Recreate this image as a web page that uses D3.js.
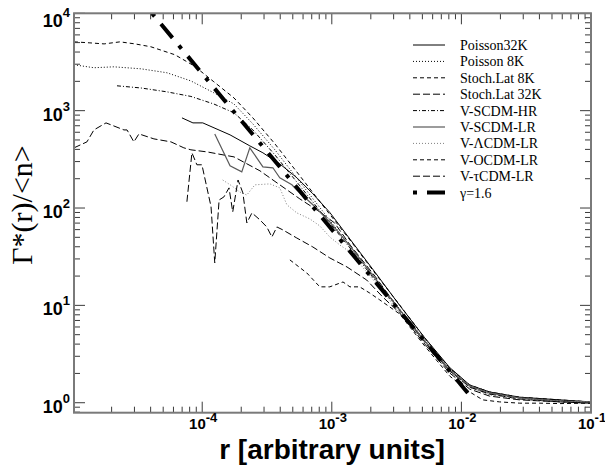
<!DOCTYPE html>
<html>
<head>
<meta charset="utf-8">
<script src="https://cdn.jsdelivr.net/npm/d3@7"></script>
<style>
body{margin:0;background:#fff;}
</style>
</head>
<body>
<svg id="chart" width="605" height="469"></svg>
<script>
/*values: r and Gamma*(r)/<n> for each run*/
const rPoisson32K = [6.98e-5, 8.48e-5, 1.01e-4, 1.64e-4, 2.33e-4, 2.94e-4, 3.97e-4, 5.37e-4, 7.14e-4, 9.65e-4, 1.38e-3, 2.15e-3, 3.34e-3, 5.21e-3, 8.12e-3, 1.16e-2, 1.65e-2, 2.82e-2, 5.73e-2, 0.1];
const gPoisson32K = [843, 749, 749, 564, 435, 369, 284, 205, 140, 90.0, 48.0, 22.0, 10.0, 4.65, 2.30, 1.52, 1.29, 1.14, 1.07, 1.02];

const rPoisson8K = [1.025e-5, 1.46e-5, 2.08e-5, 3.37e-5, 5.35e-5, 8.18e-5, 1.23e-4, 1.76e-4, 2.46e-4, 3.64e-4, 5.67e-4, 8.83e-4, 1.38e-3, 2.15e-3, 3.34e-3, 5.21e-3, 8.12e-3, 1.16e-2, 1.65e-2, 2.82e-2, 5.73e-2, 0.1];
const gPoisson8K = [2960, 2760, 2820, 2690, 2450, 2020, 1525, 1170, 731, 396, 185, 87.0, 40.8, 19.1, 9.18, 4.41, 2.22, 1.49, 1.26, 1.12, 1.04, 1.02];

const rStoch8K = [1.025e-5, 1.36e-5, 1.75e-5, 2.32e-5, 3.03e-5, 4.02e-5, 6.16e-5, 8.63e-5, 1.23e-4, 1.76e-4, 2.46e-4, 3.64e-4, 5.67e-4, 8.83e-4, 1.38e-3, 2.15e-3, 3.34e-3, 5.21e-3, 8.12e-3, 1.16e-2, 1.65e-2, 2.82e-2, 5.73e-2, 0.1];
const gStoch8K = [5090, 4970, 4850, 5090, 4850, 4530, 3750, 2890, 1980, 1350, 843, 456, 214, 100, 47.0, 21.5, 10.1, 4.62, 2.27, 1.52, 1.29, 1.14, 1.07, 1.02];

const rStoch32K = [1.025e-5, 1.29e-5, 1.46e-5, 1.81e-5, 2.49e-5, 2.63e-5, 2.97e-5, 3.25e-5, 4.24e-5, 5.74e-5, 7.22e-5, 8.18e-5, 1.09e-4, 1.76e-4, 2.79e-4, 3.97e-4, 5.67e-4, 8.08e-4, 1.05e-3, 1.38e-3, 2.15e-3, 3.34e-3, 5.21e-3, 8.12e-3, 1.16e-2, 1.65e-2, 2.82e-2, 5.73e-2, 0.1];
const gStoch32K = [415, 478, 634, 749, 634, 634, 478, 577, 513, 478, 415, 396, 377, 335, 241, 173, 124, 91.2, 70.3, 42.0, 20.0, 8.97, 4.21, 2.12, 1.45, 1.23, 1.09, 1.02, 0.99];

const rSCDMHR = [2.20e-5, 3.37e-5, 5.35e-5, 8.18e-5, 1.23e-4, 1.76e-4, 2.46e-4, 3.64e-4, 5.67e-4, 8.83e-4, 1.38e-3, 2.15e-3, 3.34e-3, 5.21e-3, 8.12e-3, 1.16e-2, 1.65e-2, 2.82e-2, 5.73e-2, 0.1];
const gSCDMHR = [1800, 1710, 1560, 1400, 1170, 950, 634, 351, 169, 81.0, 38.9, 18.2, 8.76, 4.21, 2.12, 1.45, 1.23, 1.12, 1.04, 1.00];

const rSCDMLR = [1.25e-4, 1.64e-4, 2.02e-4, 2.33e-4, 2.94e-4, 3.51e-4, 3.97e-4, 4.92e-4, 5.37e-4, 7.14e-4, 9.65e-4, 1.38e-3, 2.15e-3, 3.34e-3, 5.21e-3, 8.12e-3, 1.16e-2, 1.65e-2, 2.82e-2, 5.73e-2, 0.1];
const gSCDMLR = [577, 271, 235, 415, 265, 259, 204, 173, 153, 108, 71.9, 40.8, 19.1, 8.97, 4.31, 2.17, 1.49, 1.26, 1.12, 1.04, 1.02];

const rLCDMLR = [1.44e-4, 1.69e-4, 1.95e-4, 2.21e-4, 2.55e-4, 3.33e-4, 3.97e-4, 4.50e-4, 5.37e-4, 6.77e-4, 8.08e-4, 9.65e-4, 1.15e-3, 1.38e-3, 2.15e-3, 3.34e-3, 5.21e-3, 8.12e-3, 1.16e-2, 1.65e-2, 2.82e-2, 5.73e-2, 0.1];
const gLCDMLR = [194, 169, 146, 136, 173, 177, 161, 108, 89.1, 77.3, 65.5, 50.4, 41.8, 35.4, 17.4, 8.36, 4.11, 2.07, 1.42, 1.20, 1.09, 1.04, 1.02];

const rOCDMLR = [4.75e-4, 6.42e-4, 8.08e-4, 9.65e-4, 1.22e-3, 1.38e-3, 1.64e-3, 1.96e-3, 2.34e-3, 2.80e-3, 3.34e-3, 5.21e-3, 8.12e-3, 1.16e-2, 1.46e-2, 1.97e-2, 2.82e-2, 4.02e-2, 5.73e-2, 0.1];
const gOCDMLR = [29.3, 21.5, 15.5, 15.5, 17.4, 15.5, 15.5, 13.4, 11.4, 9.63, 8.16, 3.83, 1.88, 1.29, 1.07, 1.02, 0.99, 0.99, 0.98, 0.99];

const rTCDMLR = [7.62e-5, 8.33e-5, 9.10e-5, 9.95e-5, 1.17e-4, 1.25e-4, 1.35e-4, 1.47e-4, 1.61e-4, 1.72e-4, 1.89e-4, 2.06e-4, 2.21e-4, 2.42e-4, 2.79e-4, 3.15e-4, 3.45e-4, 3.77e-4, 4.19e-4, 5.37e-4, 7.14e-4, 9.65e-4, 1.31e-3, 1.86e-3, 2.47e-3, 3.34e-3, 5.21e-3, 8.12e-3, 1.16e-2, 1.65e-2, 2.82e-2, 5.73e-2, 0.1];
const gTCDMLR = [116, 369, 278, 278, 103, 27.3, 121, 130, 161, 91.2, 194, 143, 70.3, 89.1, 75.5, 63.9, 50.4, 63.9, 59.6, 49.2, 39.8, 30.7, 24.8, 18.2, 12.2, 8.36, 4.01, 2.02, 1.38, 1.17, 1.07, 1.02, 0.99];

/*power law reference, gamma = 1.6*/
const rGamma = [4.1e-5, 1.12e-2];
const gGamma = [1.0e4, 1.26];

const legendNames = ["Poisson32K", "Poisson 8K", "Stoch.Lat 8K", "Stoch.Lat 32K", "V-SCDM-HR", "V-SCDM-LR", "V-\u039BCDM-LR", "V-OCDM-LR", "V-\u03C4CDM-LR", "\u03B3=1.6"];
const xDecades = [-4, -3, -2, -1];
const yDecades = [0, 1, 2, 3, 4];

/*line style for each run, same order as legend*/
const lineStyles = [
    {color: "#000", width: 1, dash: null},
    {color: "#000", width: 1, dash: "1,2"},
    {color: "#000", width: 1, dash: "4,3"},
    {color: "#000", width: 1, dash: "7,3"},
    {color: "#000", width: 1, dash: "4,2,1,2"},
    {color: "#5a5a5a", width: 1.2, dash: null},
    {color: "#808080", width: 1, dash: "1,2"},
    {color: "#000", width: 1, dash: "4,3"},
    {color: "#000", width: 1, dash: "7,3"},
    {color: "#000", width: 4, dash: "4,10,18,10"}
];

const seriesR = [rPoisson32K, rPoisson8K, rStoch8K, rStoch32K, rSCDMHR, rSCDMLR, rLCDMLR, rOCDMLR, rTCDMLR, rGamma];
const seriesG = [gPoisson32K, gPoisson8K, gStoch8K, gStoch32K, gSCDMHR, gSCDMLR, gLCDMLR, gOCDMLR, gTCDMLR, gGamma];

const plotLeft = 74, plotRight = 591, plotTop = 13.3, plotBottom = 412.7;

const svg = d3.select("#chart");

const x = d3.scaleLog().domain([1.025e-5, 0.1]).range([plotLeft, plotRight]);
const y = d3.scaleLog().domain([0.79, 1e4]).range([plotBottom, plotTop]);

svg.append("defs").append("clipPath").attr("id", "plotClip")
    .append("rect")
    .attr("x", plotLeft).attr("y", plotTop)
    .attr("width", plotRight - plotLeft).attr("height", plotBottom - plotTop);

/*the curves*/
const line = d3.line().x(d => x(d[0])).y(d => y(d[1]));
const curves = svg.append("g").attr("clip-path", "url(#plotClip)");

seriesR.forEach((rs, i) => {
    const pts = rs.map((r, j) => [r, seriesG[i][j]]);
    const st = lineStyles[i];
    curves.append("path")
        .datum(pts)
        .attr("d", line)
        .attr("fill", "none")
        .attr("stroke", st.color)
        .attr("stroke-width", st.width)
        .attr("stroke-dasharray", st.dash);
});

/*log ticks on all four sides, pointing in*/
const xTicks = [];
for (let e = -5; e <= -1; e++) {
    for (let m = 1; m <= 9; m++) {
        const v = m * Math.pow(10, e);
        if (v >= x.domain()[0] && v <= x.domain()[1] * 1.0001) xTicks.push({v: v, major: m === 1});
    }
}
const yTicks = [];
for (let e = -1; e <= 4; e++) {
    for (let m = 1; m <= 9; m++) {
        const v = m * Math.pow(10, e);
        if (v >= y.domain()[0] && v <= y.domain()[1] * 1.0001) yTicks.push({v: v, major: m === 1});
    }
}

const tickG = svg.append("g").attr("stroke", "#3a3a3a").attr("stroke-width", 1);
xTicks.forEach(t => {
    const px = x(t.v), len = t.major ? 11 : 6;
    tickG.append("line").attr("x1", px).attr("x2", px).attr("y1", plotBottom).attr("y2", plotBottom - len);
    tickG.append("line").attr("x1", px).attr("x2", px).attr("y1", plotTop).attr("y2", plotTop + len);
});
yTicks.forEach(t => {
    const py = y(t.v), len = t.major ? 11 : 6;
    tickG.append("line").attr("x1", plotLeft).attr("x2", plotLeft + len).attr("y1", py).attr("y2", py);
    tickG.append("line").attr("x1", plotRight).attr("x2", plotRight - len).attr("y1", py).attr("y2", py);
});

/*frame*/
svg.append("rect")
    .attr("x", plotLeft).attr("y", plotTop)
    .attr("width", plotRight - plotLeft).attr("height", plotBottom - plotTop)
    .attr("fill", "none")
    .attr("stroke", "#7a7a7a")
    .attr("stroke-width", 2);

/*tick labels as 10 with superscript exponent*/
const xLab = svg.append("g")
    .style("font-family", "'Liberation Sans', Arial, sans-serif")
    .style("font-weight", "bold");
xDecades.forEach(e => {
    const t = xLab.append("text")
        .attr("x", x(Math.pow(10, e)) + 1)
        .attr("y", 429)
        .attr("text-anchor", "middle");
    t.append("tspan").style("font-size", "15px").text("10");
    t.append("tspan").style("font-size", "13px").attr("dy", -7).text(String(e));
});

const yLab = svg.append("g")
    .style("font-family", "'Liberation Sans', Arial, sans-serif")
    .style("font-weight", "bold");
yDecades.forEach(e => {
    const py = y(Math.pow(10, e));
    const base = Math.max(py + 10, 27);
    const t = yLab.append("text")
        .attr("x", 70)
        .attr("y", base)
        .attr("text-anchor", "end");
    t.append("tspan").style("font-size", "18px").text("10");
    t.append("tspan").style("font-size", "13px").attr("dy", -10).text(String(e));
});

/*axis titles*/
svg.append("text")
    .attr("x", 332)
    .attr("y", 459)
    .attr("text-anchor", "middle")
    .style("font-family", "'Liberation Sans', Arial, sans-serif")
    .style("font-weight", "bold")
    .style("font-size", "28px")
    .text("r [arbitrary units]");

svg.append("text")
    .attr("transform", "translate(32,205) rotate(-90)")
    .attr("text-anchor", "middle")
    .style("font-family", "'Liberation Serif', 'Times New Roman', serif")
    .style("font-size", "30px")
    .text("\u0393*(r)/<n>");

/*legend*/
const legend = svg.append("g").attr("id", "legend");
legendNames.forEach((name, i) => {
    const cy = 45 + i * 16.4;
    const st = lineStyles[i];
    legend.append("line")
        .attr("x1", 413).attr("x2", 445)
        .attr("y1", cy).attr("y2", cy)
        .attr("stroke", st.color)
        .attr("stroke-width", i === 9 ? 4 : st.width)
        .attr("stroke-dasharray", st.dash);
    legend.append("text")
        .attr("x", 460)
        .attr("y", cy + 5)
        .style("font-family", "'Liberation Serif', 'Times New Roman', serif")
        .style("font-size", "14px")
        .text(name);
});
</script>
</body>
</html>
